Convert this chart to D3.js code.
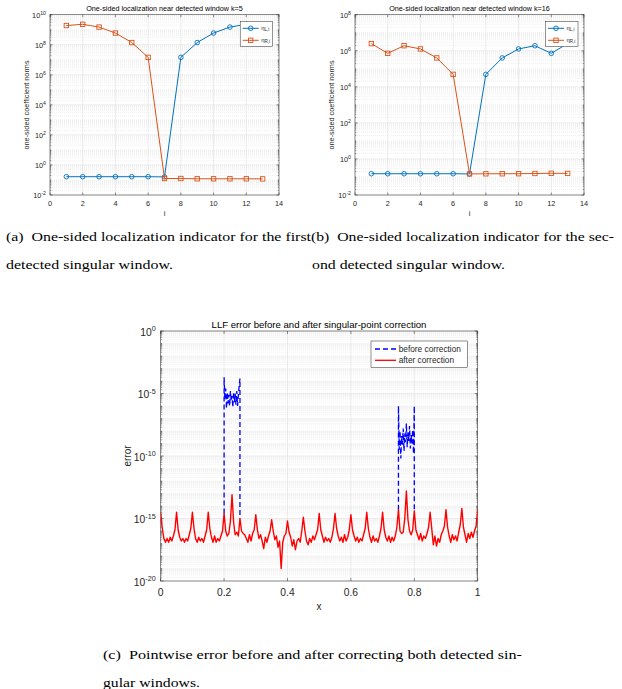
<!DOCTYPE html>
<html>
<head>
<meta charset="utf-8">
<script src="https://cdnjs.cloudflare.com/ajax/libs/d3/7.8.5/d3.min.js"></script>
<style>
  body { margin: 0; background: #fff; }
  svg { display: block; }
  .cap { font-family: "Times New Roman", "Liberation Serif", Times, serif; }
</style>
</head>
<body>
<div id="main"></div>
<script>
// ---- data ----
var idx = [1, 2, 3, 4, 5, 6, 7, 8, 9, 10, 11, 12, 13];

// panel (a), window k=5
var etaL_k5 = [0.165, 0.165, 0.165, 0.165, 0.165, 0.165, 0.16, 1.45e7, 1.4e8, 6e8, 1.5e9, 2.3e9, 1.9e9];
var etaR_k5 = [1.9e9, 2.3e9, 1.5e9, 6e8, 1.4e8, 1.45e7, 0.125, 0.125, 0.12, 0.12, 0.12, 0.12, 0.118];

// panel (b), window k=16
var etaL_k16 = [0.151, 0.151, 0.151, 0.151, 0.151, 0.151, 0.148, 4.9e4, 4e5, 1.26e6, 1.9e6, 7.2e5, 2.5e6];
var etaR_k16 = [2.5e6, 7.2e5, 1.9e6, 1.26e6, 4e5, 4.9e4, 0.148, 0.15, 0.151, 0.152, 0.156, 0.16, 0.158];

// panel (c): log10 of error after correction, sampled every 0.005 on [0,1]
var afterLog10 = [
  -14.5, -15.8, -16.6, -16.9, -16.6, -16.9, -16.5, -16.8, -16.4, -15.9,
  -14.5, -15.9, -16.5, -16.8, -16.6, -16.9, -16.6, -16.8, -16.3, -15.8,
  -14.5, -15.8, -16.6, -16.9, -16.5, -16.8, -16.6, -16.9, -16.4, -15.9,
  -14.5, -15.8, -16.5, -16.9, -16.4, -16.9, -16.6, -16.8, -16.4, -16.0,
  -14.6, -16.0, -16.4, -16.2, -15.2, -13.1, -15.3, -16.3, -16.1, -16.4,
  -15.0, -16.0, -16.2, -16.3, -16.6, -16.9, -16.3, -16.8, -16.2, -15.9,
  -14.7, -15.9, -16.6, -16.3, -16.8, -17.4, -16.5, -16.9, -16.4, -16.0,
  -15.1, -16.0, -16.7, -16.4, -17.3, -16.8, -19.0, -16.9, -16.4, -16.2,
  -15.2, -16.1, -16.5, -17.2, -16.7, -17.5, -16.8, -16.6, -16.9, -16.0,
  -14.9, -16.0, -16.8, -17.1, -16.6, -16.9, -16.4, -16.7, -16.3, -15.9,
  -14.6, -15.9, -16.4, -16.9, -16.5, -16.8, -16.6, -16.9, -16.5, -15.8,
  -14.6, -15.8, -16.4, -16.8, -16.5, -16.9, -16.3, -16.8, -16.5, -15.9,
  -14.7, -15.9, -16.4, -16.8, -16.5, -16.9, -16.6, -16.8, -16.3, -15.8,
  -14.5, -15.8, -16.5, -16.9, -16.4, -16.8, -16.6, -16.9, -16.4, -15.8,
  -14.5, -15.9, -16.5, -16.8, -16.4, -16.9, -16.5, -16.8, -16.4, -15.7,
  -14.3, -16.0, -16.2, -16.1, -15.0, -12.8, -15.1, -16.0, -16.3, -15.9,
  -14.4, -15.9, -16.3, -16.7, -16.2, -16.8, -16.4, -16.6, -16.2, -15.7,
  -14.5, -15.8, -17.1, -16.4, -17.2, -16.6, -16.9, -16.3, -16.0, -15.6,
  -14.3, -15.7, -16.4, -16.9, -16.3, -16.7, -16.4, -16.8, -16.1, -15.5,
  -14.2, -15.7, -16.3, -16.9, -16.2, -16.6, -16.1, -16.5, -16.0, -15.6,
  -14.3
];

// panel (c): error before correction inside the two detected windows [x, log10 error]
var beforeWin1 = [
  [0.200, -14.6], [0.200, -3.7], [0.2025, -5.5], [0.205, -4.6], [0.2075, -6.2], [0.210, -4.9],
  [0.2125, -5.8], [0.215, -5.1], [0.2175, -6.0], [0.220, -4.8], [0.2225, -5.6], [0.225, -5.2],
  [0.2275, -6.1], [0.230, -4.9], [0.2325, -5.7], [0.235, -5.0], [0.2375, -5.9], [0.240, -4.8],
  [0.2425, -6.0], [0.245, -5.1], [0.2475, -4.4], [0.250, -3.8], [0.250, -15.0]
];
var beforeWin2 = [
  [0.750, -14.3], [0.750, -6.0], [0.7525, -9.5], [0.755, -8.0], [0.7575, -10.2], [0.760, -8.4],
  [0.7625, -9.1], [0.765, -7.8], [0.7675, -9.6], [0.770, -8.2], [0.7725, -8.9], [0.775, -7.4],
  [0.7775, -9.3], [0.780, -8.1], [0.7825, -8.8], [0.785, -7.6], [0.7875, -9.4], [0.790, -8.3],
  [0.7925, -9.0], [0.795, -7.9], [0.7975, -9.8], [0.800, -6.0], [0.800, -14.4]
];

var blueM = "#0072BD", orangeM = "#D95319";
var txtCol = "#262626", axCol = "#262626";
var sans = "'Liberation Sans', Arial, sans-serif";

var svg = d3.select("#main").append("svg")
    .attr("width", 622).attr("height", 689);

// y tick label "10^e"
function powLabel(g, x, y, e, fs, efs) {
  var t = g.append("text")
      .attr("x", x).attr("y", y)
      .attr("text-anchor", "end")
      .attr("font-family", sans).attr("font-size", fs).attr("fill", txtCol);
  t.append("tspan").text("10");
  t.append("tspan").attr("dy", -fs * 0.45).attr("font-size", efs).text(e);
}

// frame, grid, ticks for a log-y panel
function logFrame(g, x, y, xTicks, loExp, hiExp, majorStep, opt) {
  var x0 = x.range()[0], x1 = x.range()[1];
  var yb = y.range()[0], yt = y.range()[1];

  // minor grid (dotted) at k*10^n
  var minor = [];
  for (var n = loExp; n < hiExp; n++) {
    for (var k = 1; k <= 9; k++) {
      if (k === 1 && (n - loExp) % majorStep === 0) continue;
      minor.push(k * Math.pow(10, n));
    }
  }
  g.append("g").selectAll("line").data(minor).join("line")
      .attr("x1", x0).attr("x2", x1)
      .attr("y1", d => y(d)).attr("y2", d => y(d))
      .attr("stroke", "#e6e6e6").attr("stroke-width", 0.6)
      .attr("stroke-dasharray", "1,1");

  var major = d3.range(loExp, hiExp + 1, majorStep);
  g.append("g").selectAll("line").data(major).join("line")
      .attr("x1", x0).attr("x2", x1)
      .attr("y1", d => y(Math.pow(10, d))).attr("y2", d => y(Math.pow(10, d)))
      .attr("stroke", "#e0e0e0").attr("stroke-width", 0.6);

  g.append("g").selectAll("line").data(xTicks).join("line")
      .attr("x1", d => x(d)).attr("x2", d => x(d))
      .attr("y1", yb).attr("y2", yt)
      .attr("stroke", "#e0e0e0").attr("stroke-width", 0.6);

  // box
  g.append("rect")
      .attr("x", x0).attr("y", yt)
      .attr("width", x1 - x0).attr("height", yb - yt)
      .attr("fill", "none").attr("stroke", axCol).attr("stroke-width", 0.5);

  // ticks (inward)
  var tl = opt.tick;
  g.append("g").selectAll("path").data(xTicks).join("path")
      .attr("d", d => "M" + x(d) + "," + yb + "v" + (-tl) + "M" + x(d) + "," + yt + "v" + tl)
      .attr("stroke", axCol).attr("stroke-width", 0.5);
  g.append("g").selectAll("path").data(major).join("path")
      .attr("d", d => { var yy = y(Math.pow(10, d)); return "M" + x0 + "," + yy + "h" + tl + "M" + x1 + "," + yy + "h" + (-tl); })
      .attr("stroke", axCol).attr("stroke-width", 0.5);
  g.append("g").selectAll("path").data(minor).join("path")
      .attr("d", d => { var yy = y(d); return "M" + x0 + "," + yy + "h" + (tl * 0.5) + "M" + x1 + "," + yy + "h" + (-tl * 0.5); })
      .attr("stroke", axCol).attr("stroke-width", 0.4);

  // tick labels
  g.append("g").selectAll("text").data(xTicks).join("text")
      .attr("x", d => x(d)).attr("y", yb + opt.xLabOff)
      .attr("text-anchor", "middle")
      .attr("font-family", sans).attr("font-size", opt.fs).attr("fill", txtCol)
      .text(opt.xFmt);
  major.forEach(function (e) {
    powLabel(g, x0 - opt.yLabGap, y(Math.pow(10, e)) + opt.fs * 0.45, e, opt.fs, opt.efs);
  });
}

// panels (a) and (b)
function drawIndicator(left, right, k, etaL, etaR, hiExp, leg) {
  var g = svg.append("g");
  var x = d3.scaleLinear().domain([0, 14]).range([left, right]);
  var y = d3.scaleLog().domain([1e-2, Math.pow(10, hiExp)]).range([195, 14.7]);

  logFrame(g, x, y, d3.range(0, 15, 2), -2, hiExp, 2,
           {tick: 2.5, fs: 7.3, efs: 5.2, xLabOff: 10.5, yLabGap: 4, xFmt: d => d});

  g.append("text")
      .attr("x", (left + right) / 2).attr("y", 10.5)
      .attr("text-anchor", "middle")
      .attr("font-family", sans).attr("font-size", 7.2).attr("fill", "#000")
      .text("One-sided localization near detected window k=" + k);
  g.append("text")
      .attr("x", (left + right) / 2).attr("y", 216)
      .attr("text-anchor", "middle")
      .attr("font-family", sans).attr("font-size", 7.5).attr("fill", txtCol)
      .text("i");
  g.append("text")
      .attr("transform", "translate(" + (left - 21) + "," + 105 + ") rotate(-90)")
      .attr("text-anchor", "middle")
      .attr("font-family", sans).attr("font-size", 7.3).attr("fill", txtCol)
      .text("one-sided coefficient norms");

  var line = d3.line().x((d, i) => x(idx[i])).y(d => y(d));

  g.append("path").datum(etaL).attr("d", line)
      .attr("fill", "none").attr("stroke", blueM).attr("stroke-width", 1);
  g.append("g").selectAll("circle").data(etaL).join("circle")
      .attr("cx", (d, i) => x(idx[i])).attr("cy", d => y(d)).attr("r", 2.3)
      .attr("fill", "none").attr("stroke", blueM).attr("stroke-width", 0.9);

  g.append("path").datum(etaR).attr("d", line)
      .attr("fill", "none").attr("stroke", orangeM).attr("stroke-width", 1);
  g.append("g").selectAll("rect").data(etaR).join("rect")
      .attr("x", (d, i) => x(idx[i]) - 2.2).attr("y", d => y(d) - 2.2)
      .attr("width", 4.4).attr("height", 4.4)
      .attr("fill", "none").attr("stroke", orangeM).attr("stroke-width", 0.9);

  // legend
  var lg = g.append("g");
  lg.append("rect")
      .attr("x", leg.x).attr("y", leg.y).attr("width", 32.5).attr("height", 25)
      .attr("fill", "#fff").attr("stroke", axCol).attr("stroke-width", 0.5);
  var entries = [{c: blueM, s: "L,i", m: "o"}, {c: orangeM, s: "R,i", m: "s"}];
  entries.forEach(function (e, j) {
    var yy = leg.y + 6.8 + j * 12;
    var lx = leg.x + 2.5, mx = leg.x + 10.5;
    lg.append("line").attr("x1", lx).attr("x2", lx + 16).attr("y1", yy).attr("y2", yy)
        .attr("stroke", e.c).attr("stroke-width", 1);
    if (e.m === "o") {
      lg.append("circle").attr("cx", mx).attr("cy", yy).attr("r", 2.3)
          .attr("fill", "none").attr("stroke", e.c).attr("stroke-width", 0.9);
    } else {
      lg.append("rect").attr("x", mx - 2.2).attr("y", yy - 2.2).attr("width", 4.4).attr("height", 4.4)
          .attr("fill", "none").attr("stroke", e.c).attr("stroke-width", 0.9);
    }
    var t = lg.append("text").attr("x", lx + 18.5).attr("y", yy + 1.5)
        .attr("font-family", sans).attr("font-size", 6).attr("fill", txtCol);
    t.append("tspan").text("\u03b7");
    t.append("tspan").attr("dy", 1.6).attr("font-size", 4.5).text(e.s);
  });
}

drawIndicator(50, 279, 5, etaL_k5, etaR_k5, 10, {x: 240.2, y: 21.5});
drawIndicator(355, 584, 16, etaL_k16, etaR_k16, 8, {x: 545.5, y: 21.5});

// panel (c)
(function () {
  var g = svg.append("g");
  var x = d3.scaleLinear().domain([0, 1]).range([160.7, 477.7]);
  var y = d3.scaleLog().domain([1e-20, 1]).range([581, 331]);

  logFrame(g, x, y, [0, 0.2, 0.4, 0.6, 0.8, 1], -20, 0, 5,
           {tick: 3, fs: 10.3, efs: 7.2, xLabOff: 14.5, yLabGap: 5, xFmt: d => d});

  g.append("text")
      .attr("x", 319).attr("y", 327.5)
      .attr("text-anchor", "middle")
      .attr("font-family", sans).attr("font-size", 9.6).attr("fill", "#000")
      .text("LLF error before and after singular-point correction");
  g.append("text")
      .attr("x", 319).attr("y", 610)
      .attr("text-anchor", "middle")
      .attr("font-family", sans).attr("font-size", 10).attr("fill", txtCol)
      .text("x");
  g.append("text")
      .attr("transform", "translate(130.5,456) rotate(-90)")
      .attr("text-anchor", "middle")
      .attr("font-family", sans).attr("font-size", 10).attr("fill", txtCol)
      .text("error");

  var clip = svg.append("clipPath").attr("id", "clipc");
  clip.append("rect").attr("x", 160.7).attr("y", 331).attr("width", 317).attr("height", 250);

  var lineW = d3.line().x(d => x(d[0])).y(d => y(Math.pow(10, d[1])));
  var plot = g.append("g").attr("clip-path", "url(#clipc)");
  [beforeWin1, beforeWin2].forEach(function (w) {
    plot.append("path").datum(w).attr("d", lineW)
        .attr("fill", "none").attr("stroke", "#0000ff").attr("stroke-width", 1.3)
        .attr("stroke-dasharray", "5,3");
  });
  var lineA = d3.line().x((d, i) => x(i / (afterLog10.length - 1))).y(d => y(Math.pow(10, d)));
  plot.append("path").datum(afterLog10).attr("d", lineA)
      .attr("fill", "none").attr("stroke", "#ff0000").attr("stroke-width", 1.4)
      .attr("stroke-linejoin", "round");

  // legend
  var lg = g.append("g");
  lg.append("rect").attr("x", 371).attr("y", 341).attr("width", 96.3).attr("height", 26.3)
      .attr("fill", "#fff").attr("stroke", axCol).attr("stroke-width", 0.5);
  var ents = [{c: "#0000ff", d: "5,3", t: "before correction"}, {c: "#ff0000", d: null, t: "after correction"}];
  ents.forEach(function (e, j) {
    var yy = 349 + j * 11.3;
    lg.append("line").attr("x1", 375).attr("x2", 396).attr("y1", yy).attr("y2", yy)
        .attr("stroke", e.c).attr("stroke-width", 1.3)
        .attr("stroke-dasharray", e.d);
    lg.append("text").attr("x", 398.7).attr("y", yy + 3)
        .attr("font-family", sans).attr("font-size", 8.3).attr("fill", txtCol)
        .text(e.t);
  });
})();

// captions
function caption(x, y, w, s) {
  svg.append("text")
      .attr("class", "cap")
      .attr("x", x).attr("y", y)
      .attr("font-size", 13.3).attr("fill", "#000")
      .attr("textLength", w).attr("lengthAdjust", "spacingAndGlyphs")
      .attr("xml:space", "preserve")
      .text(s);
}
caption(6, 241, 305, "(a)  One-sided localization indicator for the first");
caption(6, 269, 167, "detected singular window.");
caption(311, 241, 303, "(b)  One-sided localization indicator for the sec-");
caption(312, 269, 193, "ond detected singular window.");
caption(103, 659, 419, "(c)  Pointwise error before and after correcting both detected sin-");
caption(103, 687, 97, "gular windows.");
</script>
</body>
</html>
